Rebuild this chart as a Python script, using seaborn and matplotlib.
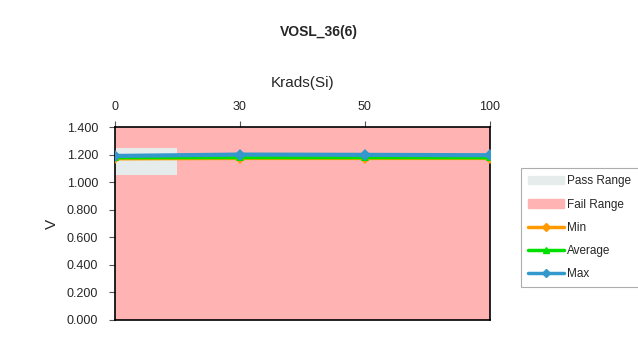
import numpy as np
import pandas as pd
import matplotlib
matplotlib.use("Agg")
import matplotlib.pyplot as plt
import matplotlib.patches as mpatches
from matplotlib.lines import Line2D
import seaborn as sns

# data
doses = ["0", "30", "50", "100"]
v_min = [1.172, 1.175, 1.175, 1.175]
v_avg = [1.180, 1.181, 1.181, 1.180]
v_max = [1.190, 1.200, 1.198, 1.195]
pass_lo, pass_hi = 1.05, 1.25
fail_lo, fail_hi = 0.0, 1.4

sns.set_style("white")
plt.rcParams['font.family'] = ['Liberation Sans', 'DejaVu Sans']

df = pd.DataFrame({
    "x": list(range(len(doses))) * 3,
    "V": v_min + v_avg + v_max,
    "series": ["Min"] * 4 + ["Average"] * 4 + ["Max"] * 4,
})

colors = {"Min": "#FF9900", "Average": "#00E000", "Max": "#3399CC"}
markers = {"Min": "D", "Average": "^", "Max": "D"}
pass_col = "#E6ECEC"
fail_col = "#FFB3B3"

fig = plt.figure(figsize=(6.38, 3.47), dpi=100)
ax = fig.add_axes([0.180, 0.078, 0.588, 0.556])

# fail range fills the whole area, pass range a band over the first category
ax.axhspan(fail_lo, fail_hi, color=fail_col, zorder=0)
ax.fill_between([0, 0.5], pass_lo, pass_hi, color=pass_col, zorder=1, linewidth=0)

sns.lineplot(data=df, x="x", y="V", hue="series", style="series",
             palette=colors, markers=markers, dashes=False,
             linewidth=3, markersize=6, markeredgewidth=0,
             ax=ax, legend=False, zorder=3)

ax.set_xlim(0, len(doses) - 1)
ax.set_ylim(0, 1.4)
ax.set_yticks(np.arange(0, 1.41, 0.2))
ax.set_yticklabels(["%.3f" % v for v in np.arange(0, 1.41, 0.2)], fontsize=9)
ax.set_xticks(range(len(doses)))
ax.set_xticklabels(doses, fontsize=9)
ax.xaxis.set_ticks_position("top")
ax.xaxis.set_label_position("top")
ax.set_xlabel("Krads(Si)", fontsize=11, labelpad=10)
ax.set_ylabel("V", fontsize=11, labelpad=6)
ax.tick_params(axis="y", length=4, left=True, color="#555555", pad=8)
ax.tick_params(axis="x", length=4, top=True, color="#555555", pad=6)
for s in ax.spines.values():
    s.set_color("black")
    s.set_linewidth(1.2)

fig.text(0.5, 0.908, "VOSL_36(6)", ha="center", va="center",
         fontsize=10, fontweight="bold")

handles = [
    mpatches.Patch(color=pass_col, label="Pass Range"),
    mpatches.Patch(color=fail_col, label="Fail Range"),
    Line2D([], [], color=colors["Min"], marker="D", lw=2.5, ms=4, label="Min"),
    Line2D([], [], color=colors["Average"], marker="^", lw=2.5, ms=5, label="Average"),
    Line2D([], [], color=colors["Max"], marker="D", lw=2.5, ms=4, label="Max"),
]
leg = fig.legend(handles=handles, loc="upper left", bbox_to_anchor=(0.808, 0.532),
                 fontsize=8.5, frameon=True, fancybox=False, handlelength=3,
                 borderpad=0.6, labelspacing=0.95, handletextpad=0.3)
leg.get_frame().set_edgecolor("#999999")
leg.get_frame().set_linewidth(0.8)

fig.savefig("out.png", dpi=100)
